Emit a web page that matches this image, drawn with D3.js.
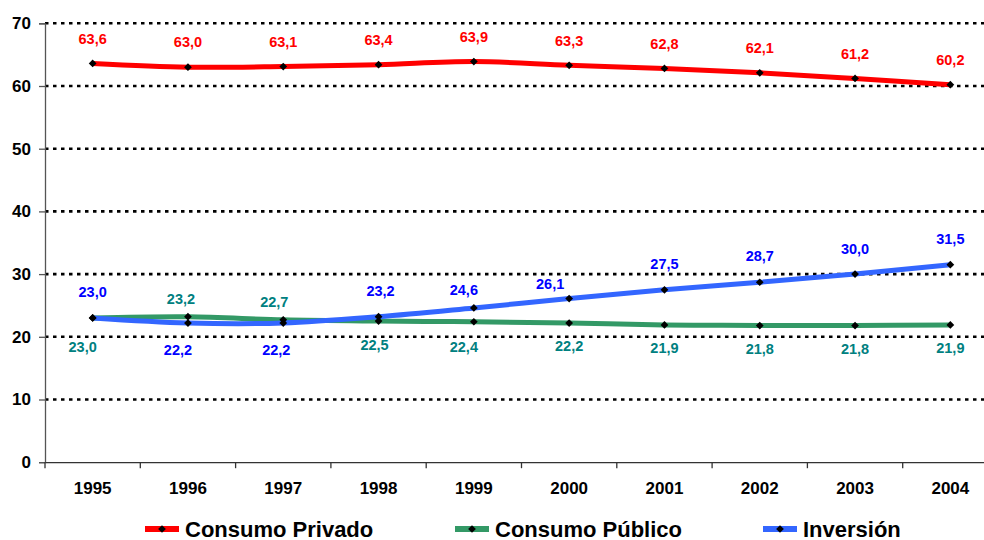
<!DOCTYPE html>
<html><head><meta charset="utf-8">
<script src="https://cdn.jsdelivr.net/npm/d3@7/dist/d3.min.js"></script>
<style>
html,body{margin:0;padding:0;background:#fff;}
svg{display:block;font-family:Arial,"Liberation Sans",sans-serif;}
</style></head>
<body>
<svg id="chart" width="984" height="540"></svg>
<script>
const years = ["1995","1996","1997","1998","1999","2000","2001","2002","2003","2004"];
const consumoPrivado = [63.6,63.0,63.1,63.4,63.9,63.3,62.8,62.1,61.2,60.2];
const consumoPublico = [23.0,23.2,22.7,22.5,22.4,22.2,21.9,21.8,21.8,21.9];
const inversion = [23.0,22.2,22.2,23.2,24.6,26.1,27.5,28.7,30.0,31.5];
const yTicks = [0,10,20,30,40,50,60,70];
const seriesNames = ["Consumo Privado","Consumo Público","Inversión"];

// label placement nudges (layout, not data): [dx, dy] from point to label centre
const nudgePrivado = years.map(() => [0,-25]);
const nudgePublico = [[-10,29],[-7,-18],[-9,-18.5],[-4,23.5],[-10,25.5],[0,23],[0,23],[0,23],[0,23],[0,22.5]];
const nudgeInversion = [[0,-26.5],[-10,26.5],[-7,26.5],[2,-25.5],[-10,-18],[-19,-14.5],[0,-25.5],[0,-26],[0,-25.5],[0,-26]];

const series = [
  {name:seriesNames[0], values:consumoPrivado, line:"#FF0000", label:"#FF0000", nudge:nudgePrivado},
  {name:seriesNames[1], values:consumoPublico, line:"#339966", label:"#008080", nudge:nudgePublico},
  {name:seriesNames[2], values:inversion, line:"#3366FF", label:"#0000FF", nudge:nudgeInversion}
];

const svg = d3.select("#chart");
const mLeft = 45, mRight = 998, mTop = 23.3, mBottom = 462.2;
const x = d3.scaleBand().domain(years).range([mLeft,mRight]).padding(0);
const cx = d => x(d) + x.bandwidth()/2;
const y = d3.scaleLinear().domain([0,70]).range([mBottom,mTop]);
const fmt = v => d3.format(".1f")(v).replace(".",",");

// gridlines
svg.append("g").selectAll("line").data(yTicks.filter(t=>t>0)).join("line")
  .attr("x1",mLeft).attr("x2",mRight).attr("y1",d=>y(d)).attr("y2",d=>y(d))
  .attr("stroke","#000").attr("stroke-width",2.6).attr("stroke-dasharray","3.5,4.5");

// y axis
const yAxis = svg.append("g").attr("transform",`translate(${mLeft},0)`)
  .call(d3.axisLeft(y).tickValues(yTicks).tickSize(6).tickPadding(8).tickFormat(d3.format("d")));
yAxis.select(".domain").attr("stroke","#555").attr("stroke-width",1.3);
yAxis.selectAll(".tick line").attr("stroke","#555").attr("stroke-width",1.3);
yAxis.selectAll("text").attr("font-size",17).attr("font-weight","bold").attr("fill","#000")
  .attr("font-family","Arial, 'Liberation Sans', sans-serif");

// x axis
const xAxis = svg.append("g").attr("transform",`translate(0,${mBottom})`)
  .call(d3.axisBottom(x).tickSize(0).tickPadding(20));
xAxis.select(".domain").attr("stroke","#333").attr("stroke-width",1.3);
xAxis.selectAll("text").attr("font-size",17).attr("font-weight","bold").attr("fill","#000")
  .attr("font-family","Arial, 'Liberation Sans', sans-serif");
// category boundary ticks
svg.append("g").selectAll("line").data(years).join("line")
  .attr("x1",d=>x(d)).attr("x2",d=>x(d)).attr("y1",mBottom).attr("y2",mBottom+6)
  .attr("stroke","#333").attr("stroke-width",1.3);

// lines
const lineGen = d3.line().x((v,i)=>cx(years[i])).y(v=>y(v)).curve(d3.curveCatmullRom.alpha(0.5));
series.forEach(s=>{
  svg.append("path").datum(s.values).attr("d",lineGen)
    .attr("fill","none").attr("stroke",s.line).attr("stroke-width",5).attr("stroke-linejoin","round");
});
// markers (square diamonds)
const diamond = d3.symbol().type(d3.symbolSquare).size(30);
series.forEach(s=>{
  svg.append("g").selectAll("path").data(s.values).join("path")
    .attr("d",diamond).attr("transform",(v,i)=>`translate(${cx(years[i])},${y(v)}) rotate(45)`)
    .attr("fill","#000");
});
// data labels
series.forEach(s=>{
  svg.append("g").selectAll("text").data(s.values).join("text")
    .attr("x",(v,i)=>cx(years[i])+s.nudge[i][0])
    .attr("y",(v,i)=>y(v)+s.nudge[i][1])
    .attr("dy","0.36em").attr("text-anchor","middle")
    .attr("font-size",14.5).attr("font-weight","bold").attr("fill",s.label)
    .text(v=>fmt(v));
});

// legend
const legendX = [145,455,763];
const leg = svg.append("g");
series.forEach((s,i)=>{
  const g = leg.append("g").attr("transform",`translate(${legendX[i]},529)`);
  g.append("line").attr("x1",0).attr("x2",34).attr("y1",0).attr("y2",0)
    .attr("stroke",s.line).attr("stroke-width",6);
  g.append("path").attr("d",diamond).attr("transform","translate(17,0) rotate(45)").attr("fill","#000");
  g.append("text").attr("x",40).attr("y",7.5)
    .attr("font-size",22).attr("font-weight","bold").attr("fill","#000").text(s.name);
});
</script>
</body></html>
